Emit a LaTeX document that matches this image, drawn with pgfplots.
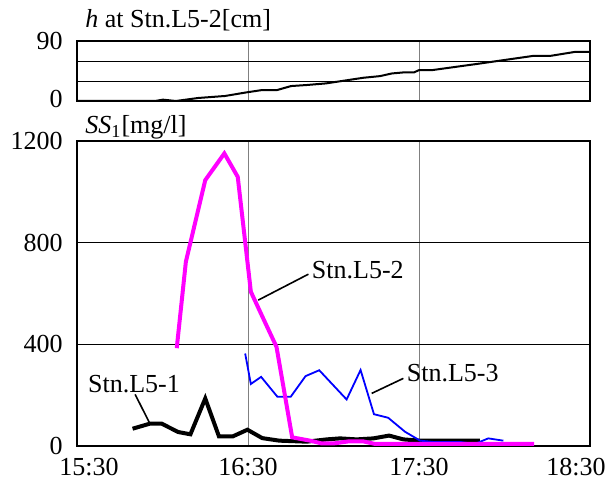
\documentclass[border=0pt]{standalone}
\usepackage{fontspec}
\setmainfont{Liberation Serif}
\usepackage{pgfplots}
\pgfplotsset{compat=1.18}
\definecolor{mag}{RGB}{255,0,255}
\definecolor{blu}{RGB}{0,0,255}
\begin{document}
\begin{tikzpicture}
\useasboundingbox (-38.5pt,-20pt) rectangle (265.5pt,223pt);
\pgfplotsset{
  every axis/.append style={
    scale only axis, width=256.5pt,
    xmin=0, xmax=180,
    axis line style={line width=0.8pt},
    major tick length=0pt,
    /pgf/number format/assume math mode=true,
    tick label style={font=\fontsize{13}{15}\selectfont, inner sep=0pt},
    yticklabel style={xshift=-7pt},
    grid=major,
    major grid style={line width=0.4pt, black},
    x grid style={line width=0.4pt, gray},
    clip=false,
  }
}
% bottom axis
\begin{axis}[
  at={(0,0)}, anchor=south west,
  height=152.5pt,
  ymin=0, ymax=1200,
  ytick={0,400,800,1200},
  yticklabels={0,400,800,\raisebox{-4pt}{1200}},
  xtick={0,60,120,180},
  xticklabels={\makebox[0pt]{\hspace{12pt}15:30},16:30,17:30,\makebox[0pt]{18:30\hspace{14pt}}},
  xticklabel style={anchor=north, yshift=-6pt},
]
\addplot[black, line width=2pt] coordinates {
(19.5,68)(25.6,88)(29.7,88)(35.5,55)(39.8,46)(45,187)(49.8,38)(54.7,38)(59.8,64)(65,31)(71,21)(80.6,17)(87.6,26)(92.3,30)(98.1,26)(104,30)(109.5,41)(114.5,26)(120.4,21)(141.4,21)
};
\addplot[blu, line width=0.9pt] coordinates {
(59,364)(61,244)(64.6,272)(70.3,194)(75,194)(80.2,275)(85,298)(94.6,183)(99.5,299)(104.2,125)(109.2,111)(115.1,56)(120.4,21)(125,16)(134.4,16)(139.6,8)(144.3,30)(149.6,21)
};
\addplot[mag, line width=2pt] coordinates {
(35,385)(38.2,725)(45,1046)(51.7,1151)(56.4,1059)(61,607)(65,510)(70,390)(75.5,34)(81.8,21)(85.9,10)(90,10)(95.2,18)(100.5,18)(104.6,8)(160.4,8)
};
\draw[black, line width=0.8pt] (axis cs:63.6,574) -- (axis cs:81.2,676);
\node[anchor=west, inner sep=1pt, font=\fontsize{13}{15}\selectfont] at (axis cs:81.6,692) {Stn.L5-2};
\draw[black, line width=0.8pt] (axis cs:103.4,207) -- (axis cs:114.5,266);
\node[anchor=west, inner sep=1pt, font=\fontsize{13}{15}\selectfont] at (axis cs:114.9,287) {Stn.L5-3};
\draw[black, line width=0.8pt] (axis cs:20.4,203) -- (axis cs:25.4,92);
\node[anchor=south, inner sep=1pt, font=\fontsize{13}{15}\selectfont] at (axis cs:20,200) {Stn.L5-1};
\node[anchor=base west, inner sep=0pt, font=\fontsize{13}{15}\selectfont] at ([xshift=4pt,yshift=3.5pt]rel axis cs:0,1) {\textit{SS}\textsubscript{1}[mg/l]};
\end{axis}
% top axis
\begin{axis}[
  at={(0,172.5pt)}, anchor=south west,
  height=30pt,
  ymin=0, ymax=90,
  ytick={0,30,60,90},
  yticklabels={\raisebox{2pt}{0},,,\raisebox{-2pt}{90}},
  xtick={60,120},
  xticklabels={},
]
\addplot[black, line width=1pt] coordinates {
(0,0)(27.4,0)(30.2,2)(34.7,0)(42.5,4.5)(51.9,7.5)(59.6,13)(64.9,16.4)(70.2,16.4)(75.1,22.4)(80.4,23.9)(87.4,26.4)(100.4,34.8)(106.3,37.3)(110.5,41.3)(114.4,42.8)(118.2,42.8)(120,46.3)(124.6,46.3)(141.4,56.2)(160,67.6)(166,67.6)(174.7,73.6)(180,73.6)
};
\node[anchor=base west, inner sep=0pt, font=\fontsize{13}{15}\selectfont] at ([xshift=4pt,yshift=6.5pt]rel axis cs:0,1) {\textit{h} at Stn.L5-2[cm]};
\end{axis}
\end{tikzpicture}
\end{document}
